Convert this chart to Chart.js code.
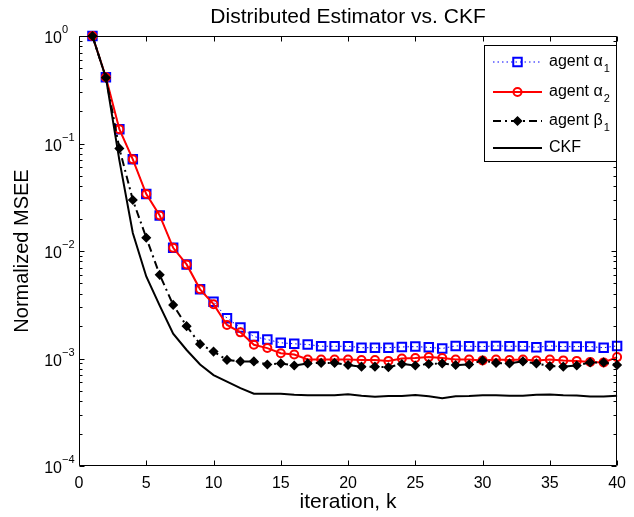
<!DOCTYPE html>
<html>
<head>
<meta charset="utf-8">
<script src="https://cdn.jsdelivr.net/npm/chart.js@4.4.0/dist/chart.umd.min.js"></script>
<style>
  html, body { margin: 0; padding: 0; background: #fff; }
  #wrap { width: 634px; height: 517px; }
</style>
</head>
<body>
<div id="wrap"><canvas id="chartArea" width="634" height="517"></canvas></div>
<script>
// ----------------------------
// data
// ----------------------------
const iterations = [1, 2, 3, 4, 5, 6, 7, 8, 9, 10, 11, 12, 13, 14, 15, 16, 17, 18, 19, 20,
  21, 22, 23, 24, 25, 26, 27, 28, 29, 30, 31, 32, 33, 34, 35, 36, 37, 38, 39, 40];

const agentAlpha1 = [1, 0.413, 0.136, 0.0713, 0.0339, 0.0214, 0.0107, 0.0075, 0.0044, 0.00338,
  0.00237, 0.00194, 0.0016, 0.0015, 0.0014, 0.00137, 0.00135, 0.0013, 0.0013, 0.0013,
  0.00126, 0.00126, 0.00126, 0.00128, 0.00129, 0.00127, 0.00124, 0.00131, 0.0013, 0.00129,
  0.00131, 0.0013, 0.0013, 0.00127, 0.00131, 0.00129, 0.00129, 0.00129, 0.00126, 0.00131];

const agentAlpha2 = [1, 0.413, 0.136, 0.0713, 0.0339, 0.0214, 0.0107, 0.0075, 0.0044, 0.0032,
  0.00205, 0.00175, 0.00134, 0.00125, 0.00112, 0.00109, 0.00098, 0.00098, 0.00098, 0.00098,
  0.00097, 0.00097, 0.00095, 0.001, 0.00101, 0.00103, 0.00101, 0.00098, 0.00098, 0.00096,
  0.00098, 0.00097, 0.00098, 0.00096, 0.00098, 0.00096, 0.00095, 0.00093, 0.00092, 0.00103];

const agentBeta1 = [1, 0.41, 0.09, 0.0298, 0.0133, 0.006, 0.00315, 0.002, 0.00136, 0.00116,
  0.00097, 0.00094, 0.00094, 0.00088, 0.0009, 0.00086, 0.0009, 0.00091, 0.00091, 0.00087,
  0.00084, 0.00084, 0.00083, 0.00089, 0.00086, 0.00089, 0.0009, 0.00087, 0.00088, 0.00096,
  0.00091, 0.0009, 0.00094, 0.0009, 0.00085, 0.00084, 0.00086, 0.00092, 0.00092, 0.00087];

const ckf = [1, 0.41, 0.07, 0.0147, 0.0058, 0.0031, 0.0017, 0.0012, 0.00088, 0.0007,
  0.00061, 0.00053, 0.00047, 0.00047, 0.00047, 0.00046, 0.000455, 0.000455, 0.000455, 0.000465,
  0.00045, 0.00044, 0.000448, 0.000448, 0.000458, 0.000445, 0.000428, 0.000445, 0.000448, 0.000455,
  0.000455, 0.00045, 0.00045, 0.00046, 0.000462, 0.000455, 0.000452, 0.000442, 0.000442, 0.00045];

const seriesNames = ['agent \u03b1', 'agent \u03b1', 'agent \u03b2', 'CKF'];
const seriesSubs = ['1', '2', '1', ''];
const xTicks = [0, 5, 10, 15, 20, 25, 30, 35, 40];
const yDecades = [1e-4, 1e-3, 1e-2, 1e-1, 1];
const yExponents = ['\u22124', '\u22123', '\u22122', '\u22121', '0'];

const FONT = '"Liberation Sans", Arial, Helvetica, sans-serif';

function toPoints(arr) {
  return iterations.map((k, i) => ({ x: k, y: arr[i] }));
}

// ----------------------------
// frame, ticks, texts, legend
// ----------------------------
const matlabFrame = {
  id: 'matlabFrame',
  beforeDraw(chart) {
    const ctx = chart.ctx;
    ctx.save();
    ctx.fillStyle = '#fff';
    ctx.fillRect(0, 0, chart.width, chart.height);
    ctx.restore();
  },
  afterDraw(chart) {
    const { ctx, chartArea: a, scales } = chart;
    const xs = scales.x, ys = scales.y;
    const L = Math.round(a.left) + 0.5, R = Math.round(a.right) - 0.5;
    const T = Math.round(a.top) + 0.5, B = Math.round(a.bottom) - 0.5;
    ctx.save();
    ctx.strokeStyle = '#000';
    ctx.lineWidth = 1;
    ctx.setLineDash([]);
    ctx.beginPath();
    ctx.rect(L, T, R - L, B - T);
    // x ticks
    xTicks.forEach(v => {
      const px = Math.round(xs.getPixelForValue(v)) + 0.5;
      ctx.moveTo(px, B); ctx.lineTo(px, B - 5);
      ctx.moveTo(px, T); ctx.lineTo(px, T + 5);
    });
    // y ticks, major and minor
    yDecades.forEach((d, i) => {
      const py = Math.round(ys.getPixelForValue(d)) + 0.5;
      ctx.moveTo(L, py); ctx.lineTo(L + 5, py);
      ctx.moveTo(R, py); ctx.lineTo(R - 5, py);
      if (i < yDecades.length - 1) {
        for (let m = 2; m <= 9; m++) {
          const pm = Math.round(ys.getPixelForValue(d * m)) + 0.5;
          ctx.moveTo(L, pm); ctx.lineTo(L + 3, pm);
          ctx.moveTo(R, pm); ctx.lineTo(R - 3, pm);
        }
      }
    });
    ctx.stroke();

    // y tick labels 10^n
    ctx.fillStyle = '#000';
    yDecades.forEach((d, i) => {
      const py = ys.getPixelForValue(d);
      ctx.font = '16px ' + FONT;
      ctx.textAlign = 'right';
      ctx.textBaseline = 'alphabetic';
      ctx.fillText('10', 62, py + 7);
      ctx.font = '11px ' + FONT;
      ctx.textAlign = 'left';
      ctx.fillText(yExponents[i], 62, py - 3);
    });

    // title and axis labels
    ctx.textAlign = 'center';
    ctx.textBaseline = 'middle';
    ctx.font = '21px ' + FONT;
    ctx.fillText('Distributed Estimator vs. CKF', (a.left + a.right) / 2, 17);
    ctx.font = '21px ' + FONT;
    ctx.fillText('iteration, k', (a.left + a.right) / 2, 502);
    ctx.save();
    ctx.translate(22, (a.top + a.bottom) / 2);
    ctx.rotate(-Math.PI / 2);
    ctx.font = '20px ' + FONT;
    ctx.fillText('Normalized MSEE', 0, 0);
    ctx.restore();

    // legend
    const bx = 484.5, by = 45.5, bw = 132, bh = 116;
    ctx.fillStyle = '#fff';
    ctx.fillRect(bx, by, bw, bh);
    ctx.strokeStyle = '#000';
    ctx.lineWidth = 1;
    ctx.strokeRect(bx, by, bw, bh);
    const rowsY = [62, 92, 121, 148];
    chart.data.datasets.forEach((ds, i) => {
      const y = rowsY[i];
      ctx.save();
      ctx.strokeStyle = ds.borderColor;
      ctx.lineWidth = ds.borderWidth;
      ctx.setLineDash(ds.borderDash || []);
      ctx.beginPath();
      ctx.moveTo(493, y); ctx.lineTo(542, y);
      ctx.stroke();
      ctx.setLineDash([]);
      if (ds.pointRadius > 0) {
        ctx.fillStyle = ds.pointBackgroundColor;
        ctx.strokeStyle = ds.pointBorderColor;
        ctx.lineWidth = ds.pointBorderWidth;
        Chart.helpers.drawPoint(ctx, {
          pointStyle: ds.pointStyle, radius: ds.pointRadius,
          borderWidth: ds.pointBorderWidth, rotation: 0
        }, 517.5, y);
      }
      ctx.restore();
      ctx.fillStyle = '#000';
      ctx.textAlign = 'left';
      ctx.textBaseline = 'middle';
      ctx.font = '16px ' + FONT;
      ctx.fillText(seriesNames[i], 549, y);
      if (seriesSubs[i]) {
        const w = ctx.measureText(seriesNames[i]).width;
        ctx.font = '11px ' + FONT;
        ctx.fillText(seriesSubs[i], 549 + w + 1, y + 7);
      }
    });
    ctx.restore();
  }
};

// ----------------------------
// chart
// ----------------------------
new Chart(document.getElementById('chartArea'), {
  type: 'line',
  data: {
    datasets: [
      {
        label: 'agent alpha1', data: toPoints(agentAlpha1), order: 4,
        borderColor: '#0000ff', borderWidth: 1, borderDash: [1.5, 3],
        pointStyle: 'rect', pointRadius: 6, pointBorderWidth: 2,
        pointBorderColor: '#0000ff', pointBackgroundColor: 'rgba(0,0,0,0)'
      },
      {
        label: 'agent alpha2', data: toPoints(agentAlpha2), order: 3,
        borderColor: '#ff0000', borderWidth: 2,
        pointStyle: 'circle', pointRadius: 4, pointBorderWidth: 2,
        pointBorderColor: '#ff0000', pointBackgroundColor: 'rgba(0,0,0,0)'
      },
      {
        label: 'agent beta1', data: toPoints(agentBeta1), order: 2,
        borderColor: '#000', borderWidth: 2, borderDash: [8, 4, 2, 4],
        pointStyle: 'rectRot', pointRadius: 4, pointBorderWidth: 1.5,
        pointBorderColor: '#000', pointBackgroundColor: '#000'
      },
      {
        label: 'CKF', data: toPoints(ckf), order: 1,
        borderColor: '#000', borderWidth: 2,
        pointRadius: 0, pointBorderWidth: 0
      }
    ]
  },
  options: {
    responsive: false,
    devicePixelRatio: 1,
    animation: false,
    clip: false,
    layout: { padding: { top: 36, right: 11, left: 0, bottom: 0 } },
    elements: { line: { tension: 0 } },
    plugins: { legend: { display: false }, title: { display: false }, tooltip: { enabled: false } },
    scales: {
      x: {
        type: 'linear', min: 0, max: 40,
        grid: { display: false, drawTicks: false },
        border: { display: false },
        afterBuildTicks: s => { s.ticks = xTicks.map(v => ({ value: v })); },
        afterFit: s => { s.height = 51; },
        ticks: { font: { size: 16, family: FONT }, color: '#000', padding: 8, maxRotation: 0, autoSkip: false }
      },
      y: {
        type: 'logarithmic', min: 1e-4, max: 1,
        grid: { display: false, drawTicks: false },
        border: { display: false },
        afterFit: s => { s.width = 79; },
        ticks: { display: false }
      }
    }
  },
  plugins: [matlabFrame]
});
</script>
</body>
</html>
